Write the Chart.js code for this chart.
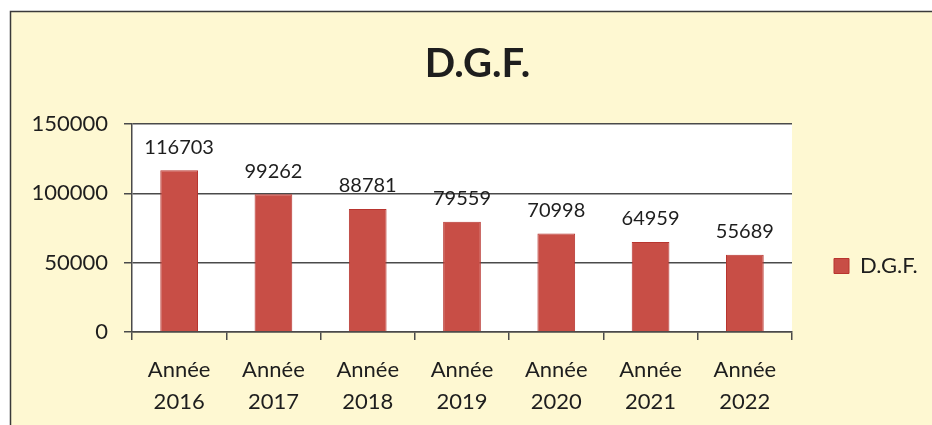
<!DOCTYPE html>
<html>
<head>
<meta charset="utf-8">
<script src="https://cdn.jsdelivr.net/npm/chart.js@4.4.1/dist/chart.umd.min.js"></script>
<style>
html,body{margin:0;padding:0;background:#fff;overflow:hidden}
canvas{display:block}
</style>
</head>
<body>
<canvas id="c" width="932" height="425"></canvas>
<script>
// ---- data ----
const categories = [
  ['Année', '2016'], ['Année', '2017'], ['Année', '2018'], ['Année', '2019'],
  ['Année', '2020'], ['Année', '2021'], ['Année', '2022']
];
const seriesName = 'D.G.F.';
const values = [116703, 99262, 88781, 79559, 70998, 64959, 55689];
const yTicks = [0, 50000, 100000, 150000];
const chartTitle = 'D.G.F.';

// ---- styles ----
const FONT = 'Lato, "Open Sans", sans-serif';
const INK = '#1e1e1e';
const LINE = '#4a4a4a';
const PANEL = '#fef8d2';

const backgroundPlugin = {
  id: 'bg',
  beforeDraw(chart) {
    const {ctx, width, height, chartArea} = chart;
    ctx.save();
    ctx.fillStyle = '#ffffff';
    ctx.fillRect(0, 0, width, height);
    ctx.fillStyle = PANEL;
    ctx.fillRect(10, 11, width - 10, height - 11);
    ctx.strokeStyle = '#3a3a3a';
    ctx.lineWidth = 1.5;
    ctx.beginPath();
    ctx.moveTo(10.5, height + 5);
    ctx.lineTo(10.5, 11.5);
    ctx.lineTo(width + 5, 11.5);
    ctx.stroke();
    ctx.fillStyle = '#ffffff';
    ctx.fillRect(chartArea.left, chartArea.top, chartArea.right - chartArea.left, chartArea.bottom - chartArea.top);
    ctx.restore();
  }
};

const valueLabels = {
  id: 'valueLabels',
  afterDatasetsDraw(chart) {
    const {ctx} = chart;
    ctx.save();
    ctx.font = '20px ' + FONT;
    ctx.fillStyle = INK;
    ctx.textAlign = 'center';
    ctx.textBaseline = 'alphabetic';
    chart.data.datasets.forEach((ds, di) => {
      chart.getDatasetMeta(di).data.forEach((bar, i) => {
        ctx.fillText(String(ds.data[i]), bar.x, bar.y - 16.5);
      });
    });
    ctx.restore();
  }
};

new Chart(document.getElementById('c'), {
  type: 'bar',
  data: {
    labels: categories,
    datasets: [{
      label: seriesName,
      data: values,
      backgroundColor: '#c84e46',
      borderColor: '#b8352f',
      borderWidth: 1,
      barPercentage: 0.4,
      categoryPercentage: 1.0
    }]
  },
  options: {
    responsive: false,
    animation: false,
    devicePixelRatio: 1,
    layout: { padding: { left: 28, right: 5, top: 0, bottom: 0 } },
    plugins: {
      title: {
        display: true,
        text: chartTitle,
        color: INK,
        font: { family: FONT, size: 40, weight: 'bold', lineHeight: 1.2 },
        padding: { top: 40.5, bottom: 35.5 }
      },
      legend: {
        position: 'right',
        align: 'center',
        maxWidth: 135,
        title: { display: true, text: ' ', font: { size: 10, lineHeight: 1 }, padding: { top: 97, bottom: 0 } },
        labels: {
          boxWidth: 15,
          boxHeight: 15,
          padding: 42,
          color: INK,
          font: { family: FONT, size: 22 }
        }
      },
      tooltip: { enabled: false }
    },
    scales: {
      x: {
        offset: true,
        afterFit(scale) { scale.height = 93; },
        border: { display: true, color: LINE, width: 1.5 },
        grid: { display: true, offset: true, drawOnChartArea: false, drawTicks: true, tickLength: 8, color: LINE, lineWidth: 1.5 },
        ticks: {
          color: INK,
          padding: 14,
          maxRotation: 0,
          autoSkip: false,
          font: { family: FONT, size: 22, lineHeight: 32 / 22 }
        }
      },
      y: {
        min: 0,
        max: 150000,
        afterFit(scale) { scale.width = 132 - 28; },
        afterBuildTicks(scale) { scale.ticks = yTicks.map(v => ({ value: v })); },
        border: { display: true, color: LINE, width: 1.5 },
        grid: { color: LINE, lineWidth: 1.5, drawTicks: true, tickLength: 8 },
        ticks: {
          color: INK,
          padding: 16,
          font: { family: FONT, size: 22 },
          callback: v => String(v)
        }
      }
    }
  },
  plugins: [backgroundPlugin, valueLabels]
});
</script>
</body>
</html>
